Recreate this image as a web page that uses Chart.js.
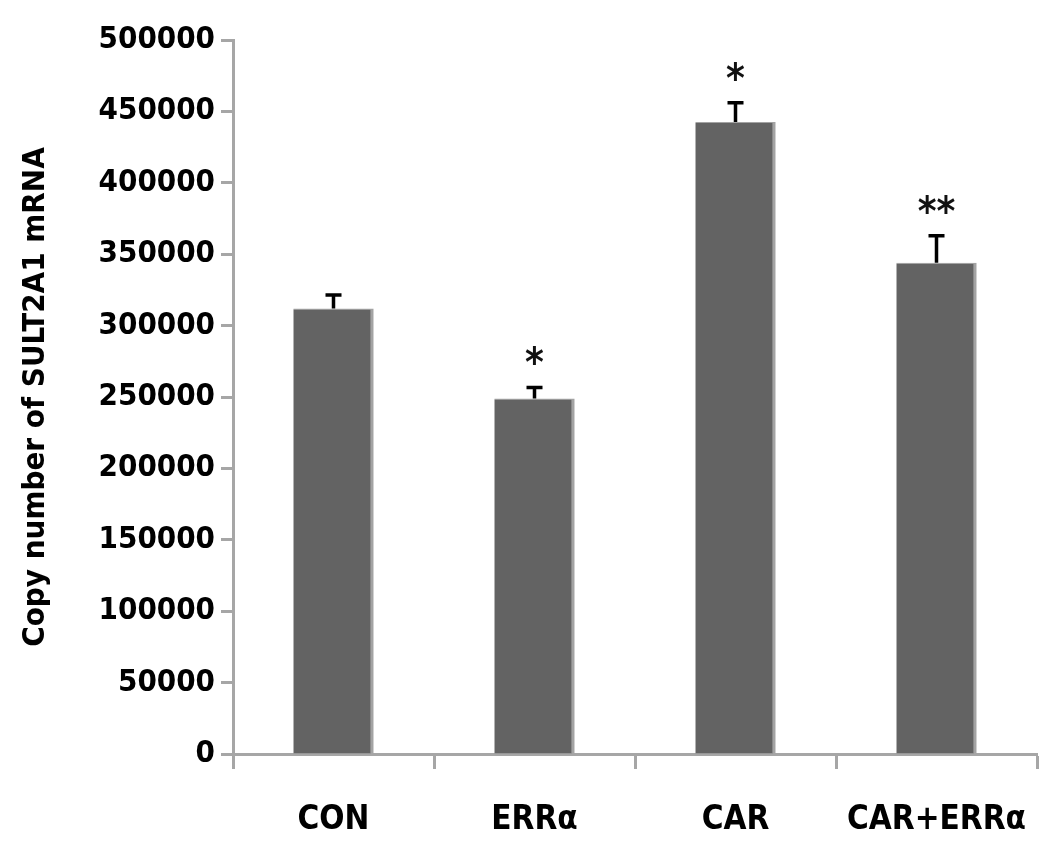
<!DOCTYPE html>
<html>
<head>
<meta charset="utf-8">
<script src="https://cdn.jsdelivr.net/npm/chart.js@4"></script>
<style>
  html, body { margin: 0; padding: 0; background: #fff; }
  #wrap { width: 1050px; height: 855px; }
</style>
</head>
<body>
<div id="wrap"><canvas id="sultChart" width="1050" height="855"></canvas></div>
<script>
// données
const groups = ["CON", "ERRα", "CAR", "CAR+ERRα"];
const copyNumber = [312000, 249000, 442500, 344000];
const errUp = [9500, 7700, 13500, 19000];
const stars = ["", "*", "*", "**"];

const FONT = "'DejaVu Sans Condensed', 'DejaVu Sans', sans-serif";

// barres d'erreur + étoiles
const errorBarPlugin = {
  id: "errorBars",
  afterDatasetsDraw(chart) {
    const { ctx, scales } = chart;
    const meta = chart.getDatasetMeta(0);
    ctx.save();
    meta.data.forEach((bar, i) => {
      const yTop = scales.y.getPixelForValue(copyNumber[i] + errUp[i]);
      ctx.strokeStyle = "#000";
      ctx.lineWidth = 3.5;
      ctx.beginPath();
      ctx.moveTo(bar.x, bar.y);
      ctx.lineTo(bar.x, yTop);
      ctx.moveTo(bar.x - 8, yTop);
      ctx.lineTo(bar.x + 8, yTop);
      ctx.stroke();
      if (stars[i]) {
        ctx.fillStyle = "#111";
        ctx.font = "bold 40px " + FONT;
        ctx.textAlign = "center";
        ctx.textBaseline = "alphabetic";
        ctx.fillText(stars[i], bar.x, yTop - 11);
      }
    });
    ctx.restore();
  },
};

const config = {
  type: "bar",
  data: {
    labels: groups,
    datasets: [
      {
        data: copyNumber,
        backgroundColor: "#636363",
        borderColor: "#a3a3a3",
        borderWidth: { top: 1, right: 3, bottom: 0, left: 0 },
        borderSkipped: false,
        barPercentage: 0.4,
        categoryPercentage: 1,
      },
    ],
  },
  options: {
    responsive: false,
    animation: false,
    layout: { padding: { top: 40, right: 13, bottom: 0, left: 0 } },
    plugins: {
      legend: { display: false },
      tooltip: { enabled: false },
    },
    scales: {
      x: {
        grid: {
          offset: true,
          drawOnChartArea: false,
          drawTicks: true,
          tickLength: 15,
          tickColor: "#a6a6a6",
          tickWidth: 3,
        },
        border: { color: "#a6a6a6", width: 3 },
        ticks: {
          color: "#000",
          padding: 32,
          font: { family: FONT, size: 33, weight: "bold" },
        },
        afterFit(scale) {
          scale.height = 101;
          scale.paddingLeft = 0;
          scale.paddingRight = 0;
        },
      },
      y: {
        min: 0,
        max: 500000,
        ticks: {
          stepSize: 50000,
          color: "#000",
          padding: 6,
          font: { family: FONT, size: 31, weight: "bold" },
          callback: (v) => String(v),
        },
        grid: {
          drawOnChartArea: false,
          drawTicks: true,
          tickLength: 12,
          tickColor: "#a6a6a6",
          tickWidth: 3,
        },
        border: { color: "#a6a6a6", width: 3 },
        title: {
          display: true,
          text: "Copy number of SULT2A1 mRNA",
          color: "#000",
          padding: { top: 17, bottom: 0 },
          font: { family: FONT, size: 31, weight: "bold" },
        },
        afterFit(scale) { scale.width = 233; },
      },
    },
  },
  plugins: [errorBarPlugin],
};

const sultChart = new Chart(document.getElementById("sultChart"), config);
</script>
</body>
</html>
